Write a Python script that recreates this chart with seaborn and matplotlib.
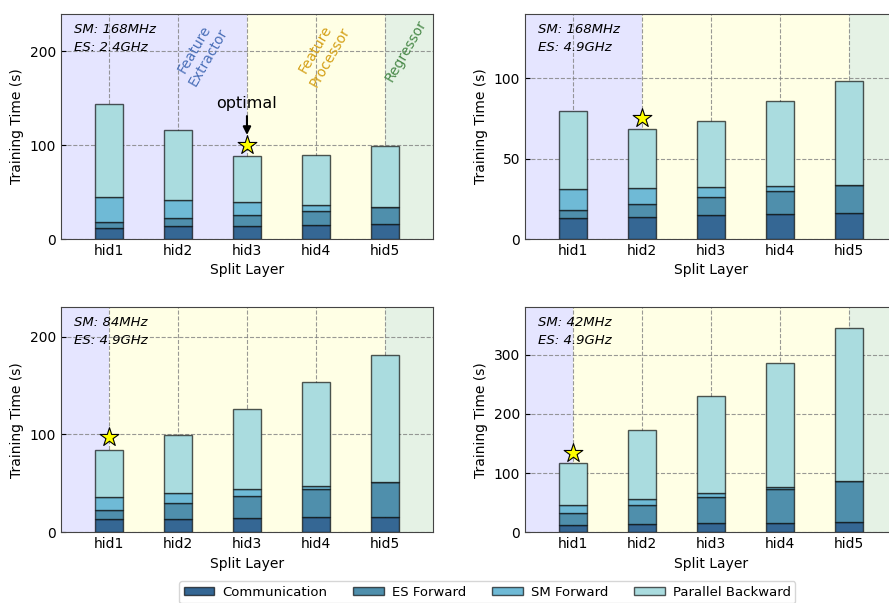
import numpy as np
import pandas as pd
import seaborn as sns
import matplotlib.pyplot as plt
from matplotlib.ticker import MultipleLocator
from matplotlib.patches import Patch

# Daten
layers = ['hid1', 'hid2', 'hid3', 'hid4', 'hid5']
parts = ['Communication', 'ES Forward', 'SM Forward', 'Parallel Backward']

comm_a = [12.1, 13.5, 14.2, 14.9, 15.6]
esf_a = [5.7, 8.5, 11.4, 14.6, 18.2]
smf_a = [26.6, 19.9, 13.5, 7.1, 0.4]
pb_a = [99.2, 74.3, 49.7, 52.6, 64.6]

comm_b = [12.9, 13.9, 14.7, 15.4, 16.0]
esf_b = [4.9, 7.9, 11.2, 14.3, 17.4]
smf_b = [13.1, 9.7, 6.3, 3.3, 0.3]
pb_b = [48.8, 36.8, 41.5, 53.1, 64.8]

comm_c = [13.3, 13.9, 14.6, 15.3, 16.0]
esf_c = [9.8, 16.4, 22.8, 28.6, 35.0]
smf_c = [12.6, 9.8, 6.5, 3.7, 0.5]
pb_c = [48.7, 58.9, 82.6, 106.1, 129.5]

comm_d = [12.8, 14.0, 15.1, 15.6, 16.8]
esf_d = [19.6, 31.8, 44.1, 57.0, 69.2]
smf_d = [13.4, 10.1, 6.7, 3.9, 0.5]
pb_d = [70.4, 116.7, 163.7, 210.1, 257.6]

freqs = ['SM: 168MHz\nES: 2.4GHz', 'SM: 168MHz\nES: 4.9GHz',
         'SM: 84MHz\nES: 4.9GHz', 'SM: 42MHz\nES: 4.9GHz']
best = [2, 1, 0, 0]          # optimaler Split
best_y = [100, 75, 97, 134]  # Hoehe des Sterns
ex_end = [2, 1, 0, 0]        # Ende Feature Extractor
ylims = [240, 140, 230, 380]
ysteps = [100, 50, 100, 100]

colors = ['#356794', '#4f8fac', '#6fbad6', '#aadcdf']

plt.rcParams['font.family'] = ['DejaVu Sans']
fig = plt.figure(figsize=(8.89, 6.03), dpi=100)

w, h = 0.4184, 0.3733
positions = [(0.0686, 0.6036), (0.5906, 0.6036), (0.0686, 0.1172), (0.5906, 0.1172)]
data = [(comm_a, esf_a, smf_a, pb_a), (comm_b, esf_b, smf_b, pb_b),
        (comm_c, esf_c, smf_c, pb_c), (comm_d, esf_d, smf_d, pb_d)]

for i in range(4):
    ax = fig.add_axes([positions[i][0], positions[i][1], w, h])
    df = pd.DataFrame(dict(zip(parts, data[i])), index=layers)
    df['layer'] = layers

    # Hintergrundbereiche
    ax.axvspan(-0.7, ex_end[i], color='blue', alpha=0.1, lw=0, zorder=0)
    ax.axvspan(ex_end[i], 4, color='yellow', alpha=0.1, lw=0, zorder=0)
    ax.axvspan(4, 4.7, color='green', alpha=0.1, lw=0, zorder=0)

    bottom = np.zeros(len(layers))
    for p, c in zip(parts, colors):
        sns.barplot(data=df, x='layer', y=p, color=c, width=0.4, bottom=bottom,
                    edgecolor=(0, 0, 0, 0.65), linewidth=1, errorbar=None,
                    saturation=1, ax=ax, zorder=3)
        bottom = bottom + df[p].values

    ax.scatter([best[i]], [best_y[i]], marker='*', s=200, color='yellow',
               edgecolor='black', linewidth=0.8, zorder=5)

    ax.set_xlim(-0.7, 4.7)
    ax.set_ylim(0, ylims[i])
    ax.yaxis.set_major_locator(MultipleLocator(ysteps[i]))
    ax.set_axisbelow(True)
    ax.grid(True, linestyle='--', color='gray', linewidth=0.8, alpha=0.8)
    ax.tick_params(direction='in', labelsize=10)
    for s in ax.spines.values():
        s.set_color('#444444')
    ax.set_xlabel('Split Layer', fontsize=10)
    ax.set_ylabel('Training Time (s)', fontsize=10)
    ax.text(0.035, 0.96, freqs[i], transform=ax.transAxes, ha='left', va='top',
            fontsize=9.5, style='italic', linespacing=1.5)

    if i == 0:
        ax.text(1.34, 198, 'Feature\nExtractor', rotation=60, ha='center', va='center',
                color='#4a6fb8', fontsize=10)
        ax.text(3.1, 198, 'Feature\nProcessor', rotation=60, ha='center', va='center',
                color='#d4a017', fontsize=10)
        ax.text(4.31, 201, 'Regressor', rotation=60, ha='center', va='center',
                color='#4a8a4a', fontsize=10)
        ax.annotate('optimal', xy=(2, 108), xytext=(2, 145), ha='center', va='center',
                    fontsize=11.5,
                    arrowprops=dict(arrowstyle='-|>', color='black', lw=1.5))

handles = [Patch(facecolor=c, edgecolor=(0, 0, 0, 0.65), label=p) for p, c in zip(parts, colors)]
fig.legend(handles=handles, loc='upper center', bbox_to_anchor=(0.548, 0.0365), ncol=4,
           fontsize=9.5, frameon=True, handlelength=2.3, handleheight=0.6,
           handletextpad=0.6, columnspacing=2.0, borderpad=0.35, borderaxespad=0)

plt.savefig('out.png', dpi=100)
